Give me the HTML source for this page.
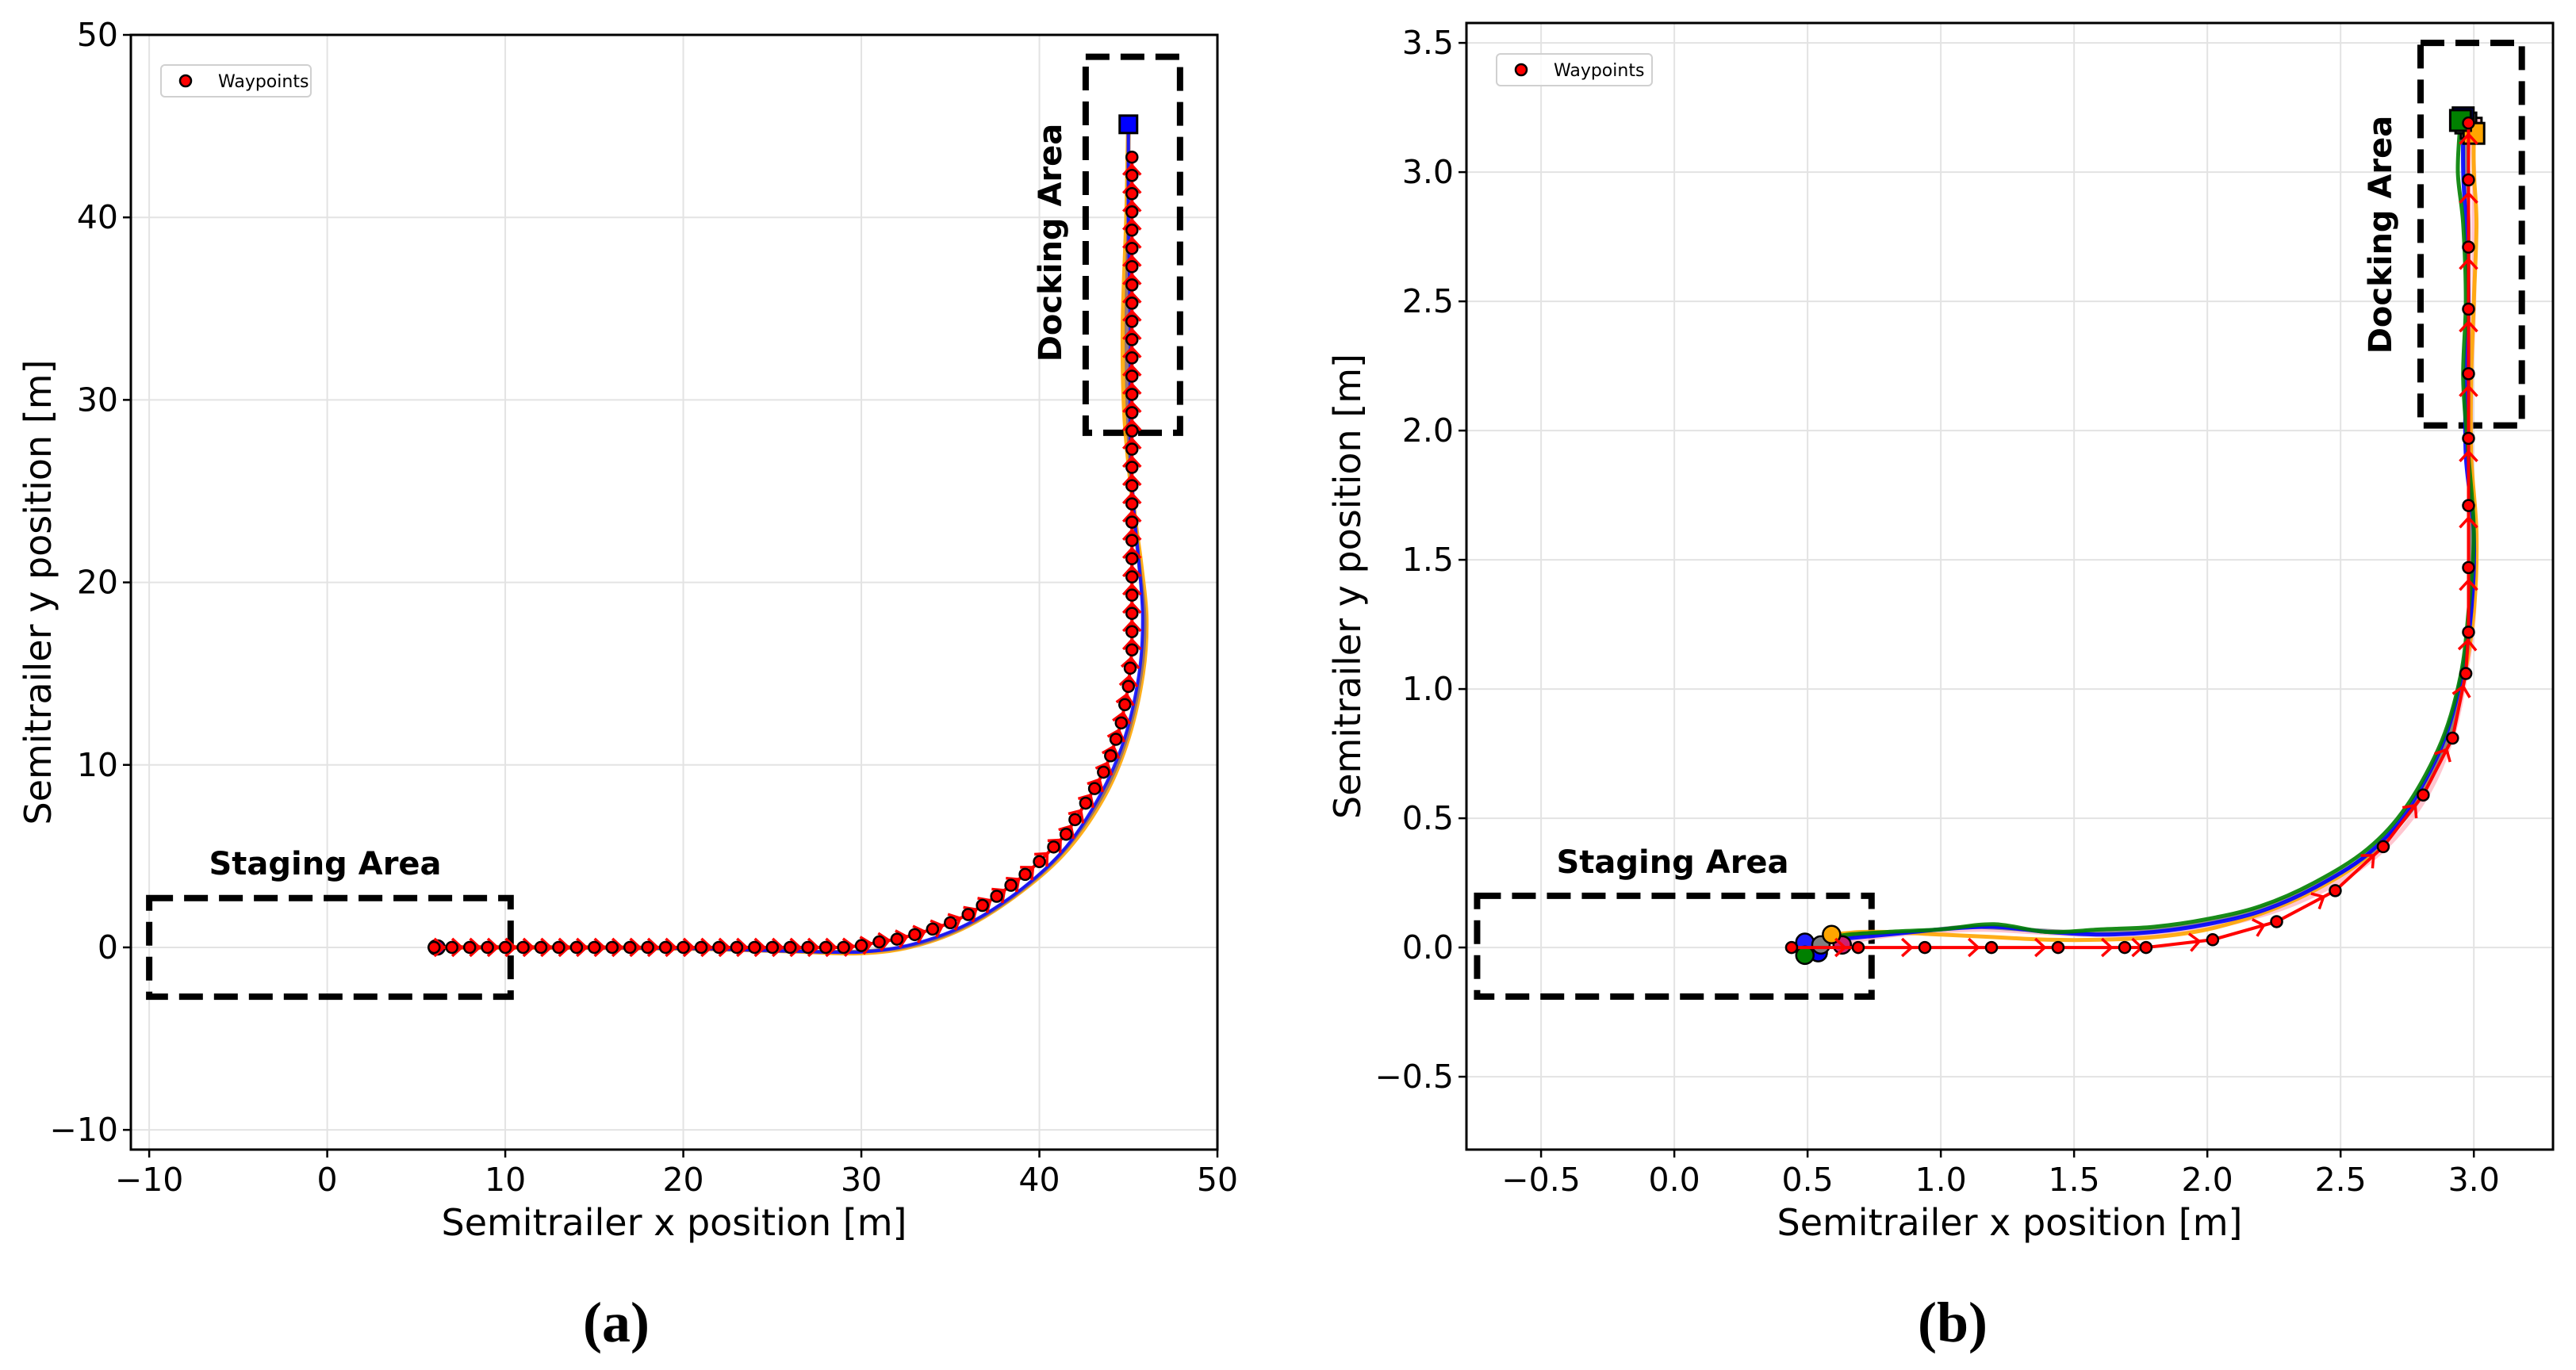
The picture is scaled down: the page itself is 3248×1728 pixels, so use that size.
<!DOCTYPE html>
<html><head><meta charset="utf-8"><style>
html,body{margin:0;padding:0;background:#fff;}
svg{display:block;}
text{font-family:"DejaVu Sans","Liberation Sans",sans-serif;}
</style></head><body>
<svg id="fig" width="3248" height="1728" viewBox="0 0 3248 1728" xmlns="http://www.w3.org/2000/svg">
<rect width="3248" height="1728" fill="#fff"/>
<g id="pa"></g>
<g id="pb"></g>
<text x="777" y="1692" text-anchor="middle" font-size="72" font-weight="bold" style="font-family:'Liberation Serif',serif">(a)</text>
<text x="2462" y="1692" text-anchor="middle" font-size="72" font-weight="bold" style="font-family:'Liberation Serif',serif">(b)</text>
</svg>
<script>
// ---- Panel A data ----
const aXTicks=[-10,0,10,20,30,40,50];
const aYTicks=[-10,0,10,20,30,40,50];
const aWpX=[6,7,8,9,10,11,12,13,14,15,16,17,18,19,20,21,22,23,24,25,26,27,28,29,30,31,32,33,34,35,36,36.8,37.6,38.4,39.2,40,40.8,41.5,42,42.6,43.1,43.6,44,44.3,44.6,44.8,45,45.1,45.2,45.2,45.2,45.2,45.2,45.2,45.2,45.2,45.2,45.2,45.2,45.2,45.2,45.2,45.2,45.2,45.2,45.2,45.2,45.2,45.2,45.2,45.2,45.2,45.2,45.2,45.2,45.2];
const aWpY=[0,0,0,0,0,0,0,0,0,0,0,0,0,0,0,0,0,0,0,0,0,0,0,0,0.1,0.3,0.45,0.7,1.0,1.35,1.8,2.3,2.8,3.4,4.0,4.7,5.5,6.2,7.0,7.9,8.7,9.6,10.5,11.4,12.3,13.3,14.3,15.3,16.3,17.3,18.3,19.3,20.3,21.3,22.3,23.3,24.3,25.3,26.3,27.3,28.3,29.3,30.3,31.3,32.3,33.3,34.3,35.3,36.3,37.3,38.3,39.3,40.3,41.3,42.3,43.3,44.6];
const aBlueX=[6,12,20,26,30,33,36,39,41.5,43.5,44.8,45.6,45.8,45.6,45.3,45.1,45.1,45.0,45.0];
const aBlueY=[0,0,-0.05,-0.2,-0.25,0.2,1.3,3.2,5.5,8.5,11.5,15,18,21,24,28,34,40,44.8];
const aOrangeX=[6,12,20,26,30,33,36,39,41.6,43.7,45.0,45.8,46.0,45.7,45.3,44.8,44.7,44.9,45.0];
const aOrangeY=[0,0,-0.05,-0.2,-0.3,0.1,1.2,3.1,5.4,8.4,11.5,15,18,21,24,29,34,40,44.8];
const aGrayX=[6,12,20,26,30,33,36,39,41.5,43.6,44.9,45.7,45.9,45.6,45.3,45.0,44.9,45.0,45.0];
const aGrayY=[0,0,-0.05,-0.2,-0.22,0.15,1.25,3.15,5.45,8.45,11.5,15,18,21,24,28.5,34,40,44.8];
// ---- Panel B data ----
const bXTicks=[-0.5,0.0,0.5,1.0,1.5,2.0,2.5,3.0];
const bYTicks=[-0.5,0.0,0.5,1.0,1.5,2.0,2.5,3.0,3.5];
const bWpX=[0.44,0.69,0.94,1.19,1.44,1.69,1.77,2.02,2.26,2.48,2.66,2.81,2.92,2.97,2.98,2.98,2.98,2.98,2.98,2.98,2.98,2.98,2.98];
const bWpY=[0,0,0,0,0,0,0,0.03,0.10,0.22,0.39,0.59,0.81,1.06,1.22,1.47,1.71,1.97,2.22,2.47,2.71,2.97,3.19];
const bGreenX=[0.49,0.6,0.8,1.0,1.2,1.4,1.6,1.8,2.0,2.2,2.4,2.6,2.75,2.88,2.95,2.98,3.0,2.98,2.96,2.97,2.96,2.94,2.95];
const bGreenY=[-0.03,0.04,0.06,0.07,0.09,0.06,0.07,0.08,0.11,0.16,0.25,0.38,0.55,0.8,1.05,1.3,1.6,1.9,2.2,2.5,2.8,3.0,3.2];
const bBlueX=[0.49,0.6,0.8,1.0,1.2,1.4,1.6,1.8,2.0,2.2,2.4,2.6,2.75,2.88,2.95,2.99,3.0,2.97,2.97,2.98,2.97,2.96,2.96];
const bBlueY=[0.02,0.03,0.05,0.07,0.08,0.06,0.05,0.06,0.09,0.14,0.23,0.36,0.53,0.78,1.03,1.3,1.6,1.9,2.2,2.5,2.8,3.0,3.21];
const bOrangeX=[0.59,0.7,0.8,1.0,1.2,1.4,1.6,1.8,2.0,2.2,2.4,2.6,2.76,2.89,2.96,3.0,3.01,2.99,2.99,3.0,3.01,3.0,3.0];
const bOrangeY=[0.05,0.06,0.06,0.05,0.04,0.03,0.03,0.04,0.07,0.13,0.22,0.35,0.53,0.78,1.03,1.3,1.6,1.9,2.2,2.5,2.8,3.0,3.15];
const bGrayX=[0.55,0.7,0.9,1.1,1.3,1.5,1.7,1.9,2.1,2.3,2.5,2.65,2.8,2.9,2.96,2.99,2.99,2.98,2.98,2.98,2.98,2.97,2.97];
const bGrayY=[0.01,0.05,0.06,0.08,0.07,0.06,0.06,0.08,0.12,0.19,0.29,0.4,0.58,0.8,1.05,1.3,1.6,1.9,2.2,2.5,2.8,3.0,3.19];
const bPinkX=[0.63,0.75,0.95,1.15,1.35,1.55,1.75,1.95,2.15,2.35,2.55,2.7,2.83,2.92,2.97,3.0,3.0,2.99,2.99,3.0,3.0,3.0,2.99];
const bPinkY=[0.01,0.04,0.06,0.07,0.06,0.05,0.05,0.07,0.11,0.18,0.29,0.42,0.6,0.82,1.06,1.3,1.6,1.9,2.2,2.5,2.8,3.0,3.17];

const NS='http://www.w3.org/2000/svg';
function mk(parent,tag,attrs){const e=document.createElementNS(NS,tag);for(const k in attrs)e.setAttribute(k,attrs[k]);parent.appendChild(e);return e;}

function panel(g,ax){
  const X=v=>ax.L+(v-ax.x0)/(ax.x1-ax.x0)*(ax.R-ax.L);
  const Y=v=>ax.B-(v-ax.y0)/(ax.y1-ax.y0)*(ax.B-ax.T);
  ax.xt.forEach(t=>{
    const gl=mk(g,'line',{x1:X(t),x2:X(t),y1:ax.T,y2:ax.B,stroke:'#e3e3e3','stroke-width':2});
    
    const tk=mk(g,'line',{x1:X(t),x2:X(t),y1:ax.B,y2:ax.B+10,stroke:'#000','stroke-width':2.5});
    
    const tx=mk(g,'text',{x:X(t),y:ax.B+52,'text-anchor':'middle','font-size':41});
    tx.textContent=ax.fmt(t).replace('-','\u2212');
    
  });
  ax.yt.forEach(t=>{
    const gl=mk(g,'line',{x1:ax.L,x2:ax.R,y1:Y(t),y2:Y(t),stroke:'#e3e3e3','stroke-width':2});
    
    const tk=mk(g,'line',{x1:ax.L-10,x2:ax.L,y1:Y(t),y2:Y(t),stroke:'#000','stroke-width':2.5});
    
    const tx=mk(g,'text',{x:ax.L-16,y:Y(t)+14,'text-anchor':'end','font-size':41});
    tx.textContent=ax.fmt(t).replace('-','\u2212');
    
  });
  // boxes
  ax.boxes.forEach(b=>{
    const r=mk(g,'rect',{x:X(b[0]),y:Y(b[3]),width:X(b[1])-X(b[0]),height:Y(b[2])-Y(b[3]),fill:'none',stroke:'#000','stroke-width':8,'stroke-dasharray':'30 14'});
    
  });
  // trajectories
  const smooth=(xs,ys)=>{const p=xs.map((x,i)=>[X(x),Y(ys[i])]);let d='M'+p[0][0]+','+p[0][1];
    for(let i=0;i<p.length-1;i++){const p0=p[i-1]||p[i],p1=p[i],p2=p[i+1],p3=p[i+2]||p2;
      d+=' C'+(p1[0]+(p2[0]-p0[0])/6)+','+(p1[1]+(p2[1]-p0[1])/6)+' '+(p2[0]-(p3[0]-p1[0])/6)+','+(p2[1]-(p3[1]-p1[1])/6)+' '+p2[0]+','+p2[1];}
    return d;};
  ax.series.forEach(s=>{
    const p=mk(g,'path',{d:smooth(s.x,s.y),fill:'none',stroke:s.c,'stroke-width':s.w||5,'stroke-opacity':s.o||0.9,'stroke-linejoin':'round'});
    
  });
  // start markers
  ax.starts.forEach(s=>{
    const c=mk(g,'circle',{cx:X(s[0]),cy:Y(s[1]),r:ax.sr,fill:s[2],stroke:'#000','stroke-width':2.5});
    
  });
  ax.ends.forEach(s=>{
    const r=mk(g,'rect',{x:X(s[0])-ax.sq,y:Y(s[1])-ax.sq,width:2*ax.sq,height:2*ax.sq,fill:s[2],stroke:'#000','stroke-width':3});
    
  });
  // reference path
  const pts=ax.wx.map((x,i)=>X(x)+','+Y(ax.wy[i])).join(' ');
  const pl=mk(g,'polyline',{points:pts,fill:'none',stroke:'#ff0000','stroke-width':4});
  
  for(let i=0;i<ax.wx.length-1;i++){
    const x1=X(ax.wx[i]),y1=Y(ax.wy[i]),x2=X(ax.wx[i+1]),y2=Y(ax.wy[i+1]);
    const mx=x1+(x2-x1)*ax.af,my=y1+(y2-y1)*ax.af;const ang=Math.atan2(y2-y1,x2-x1)*180/Math.PI;
    const ch=mk(g,'path',{d:'M-12,-11 L0,0 L-12,11',fill:'none',stroke:'#ff0000','stroke-width':3.5,transform:'translate('+mx+','+my+') rotate('+ang+')'});
    
  }
  ax.wx.forEach((x,i)=>{
    const c=mk(g,'circle',{cx:X(x),cy:Y(ax.wy[i]),r:7,fill:'#ff0000',stroke:'#000','stroke-width':2.5});
    
  });
  // spines
  const sp=mk(g,'rect',{x:ax.L,y:ax.T,width:ax.R-ax.L,height:ax.B-ax.T,fill:'none',stroke:'#000','stroke-width':3});
  
  // labels
  const xl=mk(g,'text',{x:(ax.L+ax.R)/2,y:1558,'text-anchor':'middle','font-size':46});
  xl.textContent='Semitrailer x position [m]';
  const yl=mk(g,'text',{x:0,y:0,'text-anchor':'middle','font-size':46,transform:'translate('+ax.ylx+','+(ax.T+ax.B)/2+') rotate(-90)'});
  yl.textContent='Semitrailer y position [m]';
  const st=mk(g,'text',{x:ax.stg[0],y:ax.stg[1],'text-anchor':'middle','font-size':40,'font-weight':'bold'});
  st.textContent='Staging Area';
  const dk=mk(g,'text',{x:0,y:0,'text-anchor':'middle','font-size':40,'font-weight':'bold',transform:'translate('+ax.dck[0]+','+ax.dck[1]+') rotate(-90)'});
  dk.textContent='Docking Area';
  // legend
  const lg=mk(g,'g',{});
  mk(lg,'rect',{x:ax.lg[0],y:ax.lg[1],width:ax.lg[2],height:40,rx:5,fill:'#fff','fill-opacity':0.8,stroke:'#d0d0d0','stroke-width':2});
  const lm=mk(lg,'circle',{cx:ax.lg[0]+31,cy:ax.lg[1]+20,r:7,fill:'#ff0000',stroke:'#000','stroke-width':2.5});
  
  const lt=mk(lg,'text',{x:ax.lg[0]+72,y:ax.lg[1]+28,'font-size':22});
  lt.textContent='Waypoints';
}

panel(document.getElementById('pa'),{L:165,R:1535,T:44,B:1450,x0:-11.03,x1:50,y0:-11.08,y1:50,
  xt:aXTicks,yt:aYTicks,fmt:t=>String(t),wx:aWpX,wy:aWpY,af:0.55,sr:9,sq:11,ylx:64,
  boxes:[[-10,10.3,-2.7,2.7,'staging-area-box'],[42.6,47.9,28.2,48.8,'docking-area-box']],
  series:[{x:aOrangeX,y:aOrangeY,c:'orange',n:'trajectory-orange',w:6},{x:aGrayX,y:aGrayY,c:'#8c6d6d',n:'trajectory-gray',w:5},{x:aBlueX,y:aBlueY,c:'#1010ff',n:'trajectory-blue',w:4}],
  starts:[[6.1,0,'#8080c0'],[6.2,0,'#2020ff']],ends:[[45,45.1,'#0000ff']],
  stg:[410,1103],dck:[1338,306],lg:[203,82,189]});

panel(document.getElementById('pb'),{L:1849,R:3219,T:29,B:1450,x0:-0.78,x1:3.297,y0:-0.782,y1:3.577,
  xt:bXTicks,yt:bYTicks,fmt:t=>t.toFixed(1),wx:bWpX,wy:bWpY,af:0.8,sr:11,sq:13,ylx:1715,
  boxes:[[-0.74,0.74,-0.19,0.2,'staging-area-box'],[2.8,3.18,2.02,3.5,'docking-area-box']],
  series:[{x:bPinkX,y:bPinkY,c:'pink',n:'trajectory-pink',w:6},{x:bOrangeX,y:bOrangeY,c:'orange',n:'trajectory-orange',w:5},{x:bGrayX,y:bGrayY,c:'gray',n:'trajectory-gray',w:5},{x:bBlueX,y:bBlueY,c:'#0000ff',n:'trajectory-blue',w:5},{x:bGreenX,y:bGreenY,c:'green',n:'trajectory-green',w:5}],
  starts:[[0.49,0.02,'#2020ff'],[0.54,-0.02,'#0000ff'],[0.55,0.01,'gray'],[0.63,0.01,'#d02070'],[0.59,0.05,'orange'],[0.49,-0.03,'green']],
  ends:[[2.99,3.17,'pink'],[2.97,3.19,'gray'],[2.96,3.21,'#0000ff'],[3.0,3.15,'orange'],[2.95,3.2,'green']],
  stg:[2109,1101],dck:[3015,296],lg:[1887,68,196]});
</script>
</body></html>
